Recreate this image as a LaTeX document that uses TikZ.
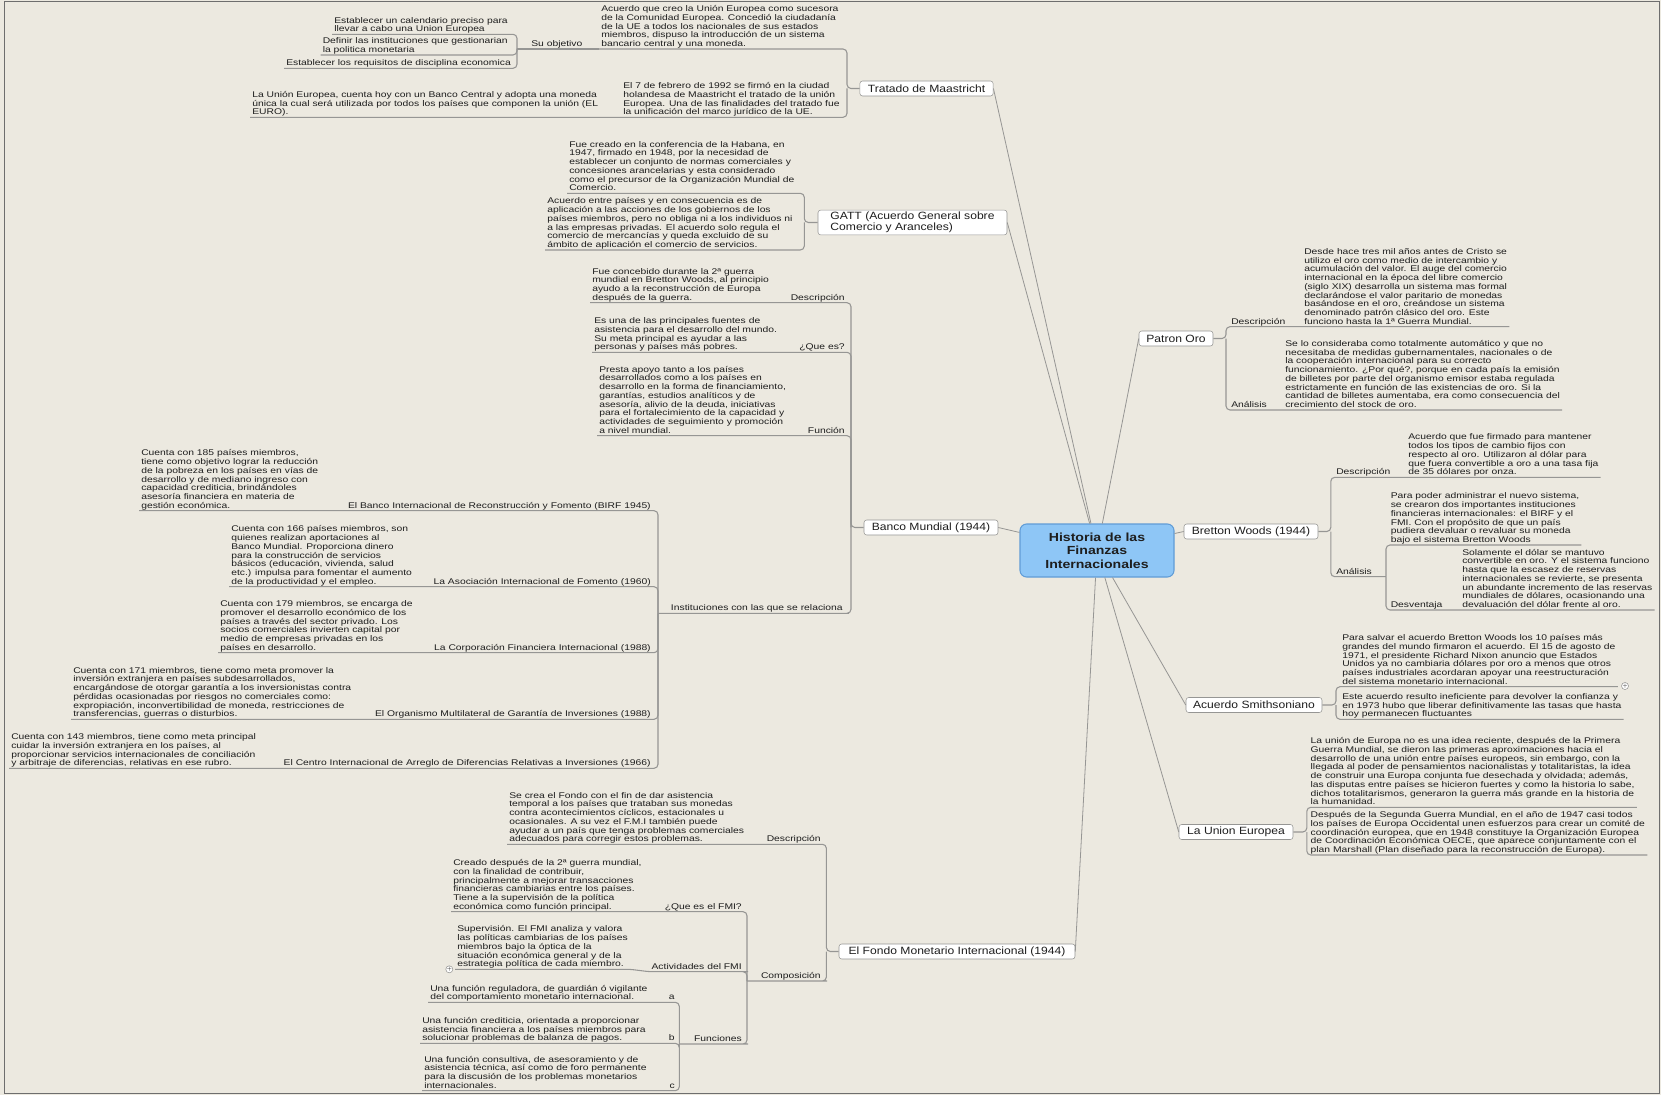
\documentclass[tikz,border=0pt]{standalone}
\usepackage{fontspec}
\newfontfamily\notefont{Liberation Sans}[FakeStretch=1.25]
\newfontfamily\topicfont{Liberation Sans}[FakeStretch=1.15]
\newfontfamily\rootfont{Liberation Sans}[FakeStretch=1.2]
\usepackage{tikz}

\definecolor{paper}{RGB}{236,233,224}
\definecolor{edge}{RGB}{110,110,110}
\definecolor{branch}{RGB}{150,150,148}
\definecolor{ink}{RGB}{30,30,30}
\definecolor{rootfill}{RGB}{142,198,246}
\definecolor{rootline}{RGB}{96,156,214}

\tikzset{
  note/.style={anchor=south west,inner xsep=1.5pt,inner ysep=1.6pt,text depth=0pt,align=left,text=ink,
    font=\notefont\fontsize{6.2}{6.55}\selectfont},
  notel/.style={note,anchor=south east},
  topic/.style={draw=branch,fill=white,rounded corners=2pt,inner xsep=4pt,inner ysep=0pt,
    minimum height=11.25pt,align=left,text=ink,font=\topicfont\fontsize{7.9}{8.6}\selectfont},
  link/.style={draw=branch,line width=0.8pt,rounded corners=3pt},
  trunk/.style={draw=branch,line width=0.6pt},
  fold/.style={circle,draw=branch,fill=white,inner sep=0pt,minimum size=5pt,font=\fontsize{4}{4}\selectfont}
}

\begin{document}
\begin{tikzpicture}[x=0.75pt,y=0.75pt,yscale=-1,xscale=1]
    \useasboundingbox (0,0) rectangle (1661,1095);
    \fill[paper] (0,0) rectangle (1661,1095);
    \draw[edge,line width=1pt] (4.5,1.5) rectangle (1659.5,1093.5);

    \node[draw=rootline,fill=rootfill,line width=0.8pt,rounded corners=5pt,minimum width=115.5pt,minimum height=39.75pt,align=center,text=ink,font=\rootfont\bfseries\fontsize{8.8}{10}\selectfont] (hist) at (1097,550.5) {Historia de las\\Finanzas\\Internacionales};

    \node[topic,minimum width=100pt] (tm) at (926.5,88.5) {Tratado de Maastricht};
    \node[topic,minimum width=141.75pt,inner ysep=1.3pt] (gatt) at (912.5,222.5) {GATT (Acuerdo General sobre\\Comercio y Aranceles)};
    \node[topic,minimum width=100.5pt] (bm) at (931,527.5) {Banco Mundial (1944)};
    \node[topic,minimum width=177pt] (fmi) at (957,951.5) {El Fondo Monetario Internacional (1944)};
    \node[topic,minimum width=55.5pt] (po) at (1176,338.5) {Patron Oro};
    \node[topic,minimum width=100.5pt] (bw) at (1251,531.5) {Bretton Woods (1944)};
    \node[topic,minimum width=102pt] (as) at (1254,705) {Acuerdo Smithsoniano};
    \node[topic,minimum width=85.5pt] (ue) at (1236,832) {La Union Europea};

    \draw[trunk] (hist) -- (tm.east);
    \draw[trunk] (hist) -- (gatt.east);
    \draw[trunk] (hist) -- (bm.east);
    \draw[trunk] (hist) -- (fmi.east);
    \draw[trunk] (hist) -- (po.west);
    \draw[trunk] (hist) -- (bw.west);
    \draw[trunk] (hist) -- (as.west);
    \draw[trunk] (hist) -- (ue.west);

    % Tratado de Maastricht
    \node[note] (tmA) at (599,49) {Acuerdo que creo la Unión Europea como sucesora\\de la Comunidad Europea. Concedió la ciudadanía\\de la UE a todos los nacionales de sus estados\\miembros, dispuso la introducción de un sistema\\bancario  central y una moneda.};
    \node[note] (tmsu) at (529,49) {Su objetivo};
    \node[note] (tmo1) at (332,34.3) {Establecer un calendario preciso para\\llevar a cabo una Union Europea};
    \node[note] (tmo2) at (320.5,55) {Definir las instituciones que gestionarian\\la politica monetaria};
    \node[note] (tmo3) at (284,68.3) {Establecer los requisitos de disciplina economica};
    \node[note] (tmB) at (621,117.3) {El 7 de febrero de 1992 se firmó en la ciudad\\holandesa de Maastricht el tratado de la unión\\Europea. Una de las finalidades del tratado fue\\la unificación del marco jurídico de la UE.};
    \node[note] (tmB1) at (250,117.3) {La Unión Europea, cuenta hoy con un Banco Central y adopta una moneda\\única la cual será utilizada por todos los países que componen la unión (EL\\EURO).};
    \coordinate (tmj) at (847,88.5);
    \coordinate (suj) at (517,49);
    \draw[link] (tm.west) -- (tmj) |- (tmA.south west);
    \draw[link] (tmj) |- (tmB.south west) -- (tmB1.south west);
    \draw[link] (tmA.south west) -- (tmsu.south west) -- (suj);
    \draw[link] (suj) |- (tmo1.south west);
    \draw[link] (suj) |- (tmo2.south west);
    \draw[link] (suj) |- (tmo3.south west);

    % GATT
    \node[note] (gA) at (567,193.3) {Fue creado en la conferencia de la Habana, en\\1947, firmado en 1948, por la necesidad de\\establecer un conjunto de normas comerciales y\\concesiones arancelarias  y esta considerado\\como el precursor de la Organización Mundial de\\Comercio.};
    \node[note] (gB) at (545,250) {Acuerdo entre países y en consecuencia es de\\aplicación a las acciones  de los gobiernos de los\\países miembros, pero no obliga  ni a los individuos ni\\a las empresas privadas. El acuerdo solo regula el\\comercio  de mercancías  y queda excluido  de su\\ámbito  de aplicación el comercio de servicios.};
    \coordinate (gj) at (804.3,222.5);
    \draw[link] (gatt.west) -- (gj) |- (gA.south west);
    \draw[link] (gj) |- (gB.south west);

    % Banco Mundial
    \node[notel] (bmd) at (847,302.7) {Descripción};
    \node[note] (bmdt) at (590,302.7) {Fue concebido durante la 2ª guerra\\mundial en Bretton Woods, al principio\\ayudo  a la reconstrucción de Europa\\después de la guerra.};
    \node[notel] (bmq) at (847,352.3) {¿Que es?};
    \node[note] (bmqt) at (592,352.3) {Es una de las principales fuentes de\\asistencia para el desarrollo del mundo.\\Su meta principal es ayudar a las\\personas y países más pobres.};
    \node[notel] (bmf) at (847,435.7) {Función};
    \node[note] (bmft) at (597,435.7) {Presta apoyo tanto a los países\\desarrollados como a los países en\\desarrollo en la forma de financiamiento,\\garantías, estudios analíticos y de\\asesoría, alivio de la deuda, iniciativas\\para el fortalecimiento de la capacidad y\\actividades de seguimiento y promoción\\a nivel mundial.};
    \node[notel] (bmi) at (845,613.3) {Instituciones con las que se relaciona};
    \node[notel] (birf) at (653,510.7) {El Banco Internacional de Reconstrucción  y Fomento (BIRF 1945)};
    \node[note] (birft) at (139,510.7) {Cuenta con 185 países miembros,\\tiene como objetivo lograr la reducción\\de la pobreza en los países en vías de\\desarrollo  y de mediano ingreso  con\\capacidad crediticia, brindándoles\\asesoría financiera  en materia  de\\gestión económica.};
    \node[notel] (aif) at (653,586.7) {La Asociación Internacional de Fomento (1960)};
    \node[note] (aift) at (229,586.7) {Cuenta con 166 países miembros, son\\quienes realizan aportaciones  al\\Banco Mundial. Proporciona dinero\\para la construcción  de servicios\\básicos (educación, vivienda, salud\\etc.) impulsa para fomentar el aumento\\de la productividad y el empleo.};
    \node[notel] (cfi) at (653,652.7) {La Corporación Financiera Internacional (1988)};
    \node[note] (cfit) at (218,652.7) {Cuenta con 179 miembros, se encarga de\\promover el desarrollo económico de los\\países  a través del sector privado. Los\\socios comerciales invierten capital por\\medio de empresas privadas en los\\países en desarrollo.};
    \node[notel] (miga) at (653,719.3) {El Organismo Multilateral de Garantía de Inversiones (1988)};
    \node[note] (migat) at (71,719.3) {Cuenta con 171 miembros, tiene como meta promover la\\inversión extranjera en países subdesarrollados,\\encargándose de otorgar garantía a los inversionistas contra\\pérdidas ocasionadas por riesgos no comerciales como:\\expropiación, inconvertibilidad de moneda, restricciones  de\\transferencias, guerras o disturbios.};
    \node[notel] (ciadi) at (653,768.3) {El Centro Internacional de Arreglo de Diferencias Relativas a Inversiones (1966)};
    \node[note] (ciadit) at (9,768.3) {Cuenta con 143 miembros, tiene como meta principal\\cuidar la inversión extranjera  en los países, al\\proporcionar  servicios internacionales de conciliación\\y arbitraje de diferencias, relativas en ese rubro.};
    \coordinate (bmj) at (851,527.5);
    \coordinate (bmij) at (658,613.3);
    \draw[link] (bm.west) -- (bmj) |- (bmdt.south west);
    \draw[link] (bmj) |- (bmqt.south west);
    \draw[link] (bmj) |- (bmft.south west);
    \draw[link] (bmj) |- (bmi.south east) -- (bmij);
    \draw[link] (bmij) |- (birft.south west);
    \draw[link] (bmij) |- (aift.south west);
    \draw[link] (bmij) |- (cfit.south west);
    \draw[link] (bmij) |- (migat.south west);
    \draw[link] (bmij) |- (ciadit.south west);

    % Fondo Monetario Internacional
    \node[notel] (fmd) at (823,844.3) {Descripción};
    \node[note] (fmdt) at (507,844.3) {Se crea el Fondo con el fin de dar asistencia\\temporal a los países que trataban sus monedas\\contra acontecimientos cíclicos, estacionales u\\ocasionales. A su vez el F.M.I también puede\\ayudar a un país que tenga problemas comerciales\\adecuados para corregir estos problemas.};
    \node[notel] (fmc) at (823,981) {Composición};
    \node[notel] (fmq) at (744,911.7) {¿Que es el FMI?};
    \node[note] (fmqt) at (451,911.7) {Creado después de la 2ª guerra mundial,\\con la finalidad de contribuir,\\principalmente a mejorar transacciones\\financieras cambiarias entre los países.\\Tiene a la supervisión de la política\\económica como función principal.};
    \node[notel] (fma) at (744,971.7) {Actividades del FMI};
    \node[note] (fmat) at (455,969.3) {Supervisión. El FMI analiza y valora\\las políticas cambiarias de los países\\miembros bajo la óptica de la\\situación económica general y de la\\estrategia política de cada miembro.};
    \node[fold] (fmafold) at (449.3,969.3) {+};
    \node[notel] (fmf) at (744,1044) {Funciones};
    \node[notel] (ffa) at (677,1002.3) {a};
    \node[note] (ffat) at (428,1002.3) {Una función reguladora, de guardián ó vigilante\\del comportamiento monetario internacional.};
    \node[notel] (ffb) at (677,1043.3) {b};
    \node[note] (ffbt) at (420,1043.3) {Una función crediticia, orientada a proporcionar\\asistencia financiera a los países miembros para\\solucionar problemas de balanza de pagos.};
    \node[notel] (ffc) at (677,1090.7) {c};
    \node[note] (ffct) at (422,1090.7) {Una función consultiva, de asesoramiento y de\\asistencia técnica, así como de foro permanente\\para la discusión de los problemas monetarios\\internacionales.};
    \coordinate (fmj) at (826.4,951.5);
    \coordinate (fmcj) at (747,981);
    \coordinate (fmfj) at (679.3,1044);
    \draw[link] (fmi.west) -- (fmj) |- (fmdt.south west);
    \draw[link] (fmj) |- (fmc.south east) -- (fmcj);
    \draw[link] (fmcj) |- (fmqt.south west);
    \draw[link] (fmcj) |- (fma.south east) -- (fma.south west) -- (fmat.south east) -- (fmat.south west);
    \draw[link] (fmcj) |- (fmf.south east) -- (fmfj);
    \draw[link] (fmfj) |- (ffat.south west);
    \draw[link] (fmfj) |- (ffbt.south west);
    \draw[link] (fmfj) |- (ffct.south west);

    % Patron Oro
    \node[note] (pod) at (1229,326.7) {Descripción};
    \node[note] (podt) at (1302,326.7) {Desde hace tres mil años antes de Cristo se\\utilizo el oro como medio de intercambio y\\acumulación del valor. El auge del comercio\\internacional en la época del libre comercio\\(siglo XIX) desarrolla un sistema mas formal\\declarándose el valor paritario de monedas\\basándose en el oro, creándose un sistema\\denominado patrón clásico del oro. Este\\funciono hasta la 1ª Guerra Mundial.};
    \node[note] (poa) at (1229,410) {Análisis};
    \node[note] (poat) at (1283,410) {Se lo consideraba como totalmente automático y que no\\necesitaba de medidas gubernamentales, nacionales o de\\la cooperación internacional para su correcto\\funcionamiento. ¿Por qué?, porque en cada país la emisión\\de billetes por parte del organismo emisor estaba regulada\\estrictamente en función de las existencias de oro. Si la\\cantidad de billetes aumentaba, era como consecuencia del\\crecimiento del stock de oro.};
    \coordinate (poj) at (1226,338.5);
    \draw[link] (po.east) -- (poj) |- (podt.south east);
    \draw[link] (poj) |- (poat.south east);

    % Bretton Woods
    \node[note] (bwd) at (1334,477.3) {Descripción};
    \node[note] (bwdt) at (1406,477.3) {Acuerdo que fue firmado para mantener\\todos los tipos de cambio fijos con\\respecto al oro. Utilizaron al dólar para\\que fuera convertible a oro a una tasa fija\\de 35 dólares por onza.};
    \node[note] (bwa) at (1334,576.7) {Análisis};
    \node[note] (bwat) at (1388.5,545) {Para poder administrar el nuevo sistema,\\se crearon dos importantes instituciones\\financieras internacionales: el BIRF y el\\FMI. Con el propósito de que un país\\pudiera devaluar o revaluar su moneda\\bajo el sistema Bretton Woods};
    \node[note] (bwv) at (1388.5,610) {Desventaja};
    \node[note] (bwvt) at (1460,610) {Solamente el dólar se mantuvo\\convertible en oro. Y el sistema funciono\\hasta que la escasez de reservas\\internacionales se revierte, se presenta\\un abundante incremento de las reservas\\mundiales de dólares, ocasionando una\\devaluación del dólar frente al oro.};
    \coordinate (bwj) at (1330.8,531.5);
    \coordinate (bwaj) at (1386,576.7);
    \draw[link] (bw.east) -- (bwj) |- (bwdt.south east);
    \draw[link] (bwj) |- (bwaj);
    \draw[link] (bwaj) |- (bwat.south east);
    \draw[link] (bwaj) |- (bwvt.south east);

    % Acuerdo Smithsoniano
    \node[note] (as1) at (1340,686.7) {Para salvar el acuerdo Bretton Woods los 10 países más\\grandes del mundo firmaron el acuerdo. El 15 de agosto de\\1971, el presidente Richard Nixon anuncio que Estados\\Unidos ya no cambiaria dólares por oro a menos  que otros\\países industriales acordaran apoyar  una reestructuración\\del sistema monetario internacional.};
    \node[note] (as2) at (1340,719.3) {Este acuerdo resulto ineficiente para devolver la confianza y\\en 1973 hubo que liberar definitivamente las tasas que hasta\\hoy permanecen fluctuantes};
    \coordinate (asj) at (1336,705);
    \draw[link] (as.east) -- (asj) |- (as1.south east);
    \draw[link] (asj) |- (as2.south east);
    \node[fold] (asfold) at (1625,686) {+};

    % La Union Europea
    \node[note] (ue1) at (1308.4,807.3) {La unión de Europa no es una idea reciente, después de la Primera\\Guerra Mundial, se dieron las primeras aproximaciones hacia el\\desarrollo de una unión entre países europeos, sin embargo, con la\\llegada al poder de pensamientos nacionalistas y totalitaristas, la idea\\de construir una Europa conjunta fue desechada y olvidada; además,\\las disputas entre países se hicieron fuertes y como la historia lo sabe,\\dichos totalitarismos, generaron la guerra más grande en la historia de\\la humanidad.};
    \node[note] (ue2) at (1308.4,855) {Después de la Segunda Guerra Mundial, en el año de 1947 casi todos\\los países de Europa Occidental unen esfuerzos para crear un comité de\\coordinación europea, que en 1948 constituye la Organización Europea\\de Coordinación Económica OECE, que aparece conjuntamente con el\\plan Marshall (Plan diseñado para la reconstrucción de Europa).};
    \coordinate (uej) at (1306.8,832);
    \draw[link] (ue.east) -- (uej) |- (ue1.south east);
    \draw[link] (uej) |- (ue2.south east);
\end{tikzpicture}
\end{document}
